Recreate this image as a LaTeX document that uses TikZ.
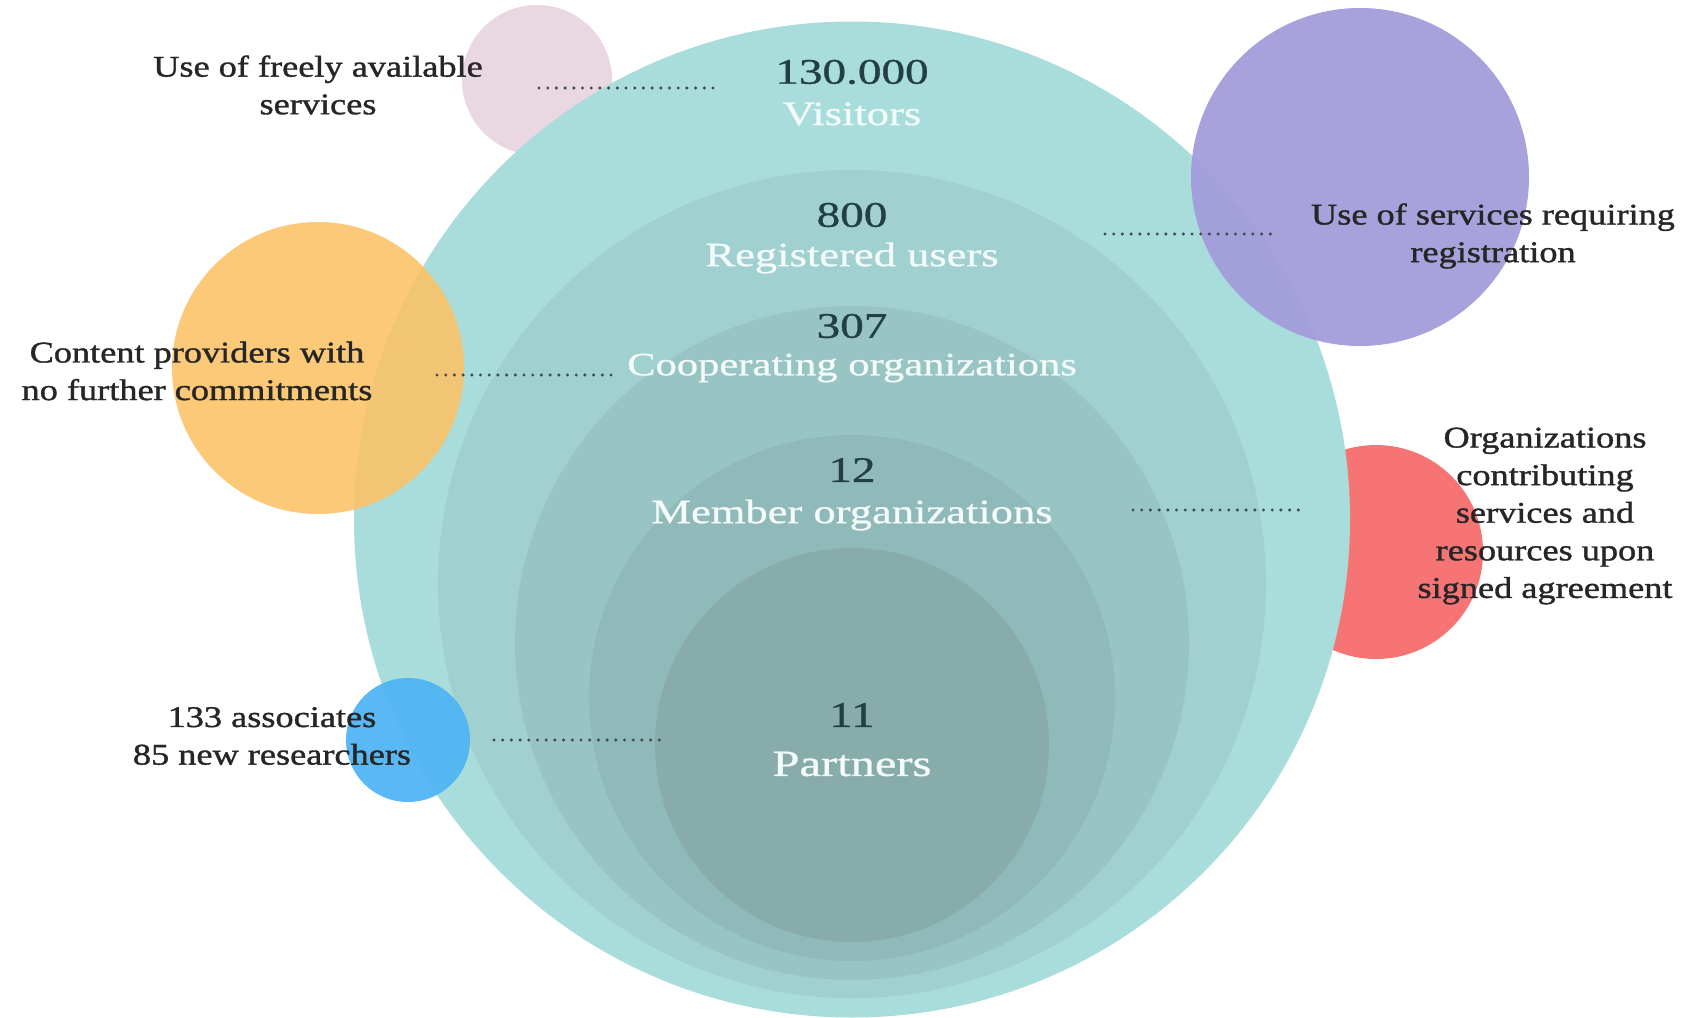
\documentclass[tikz,border=0pt]{standalone}
\usepackage{fontspec}
\setmainfont{Liberation Serif}[FakeStretch=1.21, FakeBold=1.2]
\newfontfamily\innerfont{Liberation Serif}[FakeStretch=1.31, FakeBold=0.8]
\definecolor{ring1}{HTML}{A9DDDB}
\definecolor{ring2}{HTML}{A1D0D0}
\definecolor{ring3}{HTML}{98C5C4}
\definecolor{ring4}{HTML}{90BAB9}
\definecolor{ring5}{HTML}{88ACA9}
\definecolor{pinkc}{HTML}{E9D7E1}
\definecolor{orangec}{HTML}{FBC265}
\definecolor{purplec}{HTML}{A39CDB}
\definecolor{redc}{HTML}{F77474}
\definecolor{bluec}{HTML}{4DB4F5}
\definecolor{numc}{HTML}{223F44}
\definecolor{outc}{HTML}{262626}
\definecolor{dotc}{HTML}{3F4D50}
\definecolor{inwhite}{HTML}{F4FBFB}
\tikzset{
  outlabel/.style={align=center, text=outc, font=\fontsize{30}{37.6}\selectfont, inner sep=0pt},
  numlabel/.style={text=numc, font=\innerfont\fontsize{36}{42}\selectfont, inner sep=0pt},
  inlabel/.style={text=inwhite, font=\innerfont\fontsize{34}{40}\selectfont, inner sep=0pt},
  dotline/.style={draw=dotc, line width=3.4pt, line cap=round, dash pattern=on 0pt off 8.7pt},
}
\begin{document}
\begin{tikzpicture}[x=1pt,y=-1pt]
\useasboundingbox (0,0) rectangle (1683,1017);
\fill[white] (0,0) rectangle (1683,1017);
% circles behind
\fill[pinkc] (537,80) circle[radius=75pt];
\fill[redc] (1376,552) circle[radius=107pt];
% nested teal circles
\fill[ring1] (852,519.5) circle[radius=498pt];
\fill[ring2] (852,584) circle[radius=414pt];
\fill[ring3] (852,643) circle[radius=337pt];
\fill[ring4] (852,698) circle[radius=263pt];
\fill[ring5] (852,745) circle[radius=197pt];
% circles in front
\fill[purplec, opacity=0.95] (1360,177) circle[radius=169pt];
\fill[orangec, opacity=0.88] (318,368) circle[radius=146pt];
\fill[bluec, opacity=0.92] (408,740) circle[radius=62pt];
% inner labels
\node[numlabel] (n130) at (852,72) {130.000};
\node[inlabel] (lvis) at (852,114) {Visitors};
\node[numlabel] (n800) at (852,215) {800};
\node[inlabel] (lreg) at (852,258) {Registered users};
\node[numlabel] (n307) at (852,326) {307};
\node[inlabel, font=\innerfont\fontsize{32.5}{40}\selectfont] (lcoop) at (852,368) {Cooperating organizations};
\node[numlabel] (n12) at (852,470) {12};
\node[inlabel] (lmem) at (852,515) {Member organizations};
\node[numlabel] (n11) at (852,715) {11};
\node[inlabel, font=\innerfont\fontsize{37}{42}\selectfont] (lpart) at (852,764) {Partners};
% outer labels
\node[outlabel] (tfree) at (318,85) {Use of freely available\\services};
\node[outlabel] (tcont) at (197,371) {Content providers with\\no further commitments};
\node[outlabel] (tassoc) at (272,736) {133 associates\\85 new researchers};
\node[outlabel] (treg) at (1493,236) {Use of services requiring\\registration};
\node[outlabel] (torg) at (1545,516) {Organizations\\contributing\\services and\\resources upon\\signed agreement};
% dotted leaders
\coordinate (d1a) at (539,88); \coordinate (d1b) at (713,88);
\coordinate (d2a) at (1105,234); \coordinate (d2b) at (1277,234);
\coordinate (d3a) at (437,375); \coordinate (d3b) at (611,375);
\coordinate (d4a) at (1133,510); \coordinate (d4b) at (1306,510);
\coordinate (d5a) at (494,740); \coordinate (d5b) at (667,740);
\draw[dotline] (d1a) -- (d1b);
\draw[dotline] (d2a) -- (d2b);
\draw[dotline] (d3a) -- (d3b);
\draw[dotline] (d4a) -- (d4b);
\draw[dotline] (d5a) -- (d5b);
\end{tikzpicture}
\end{document}
